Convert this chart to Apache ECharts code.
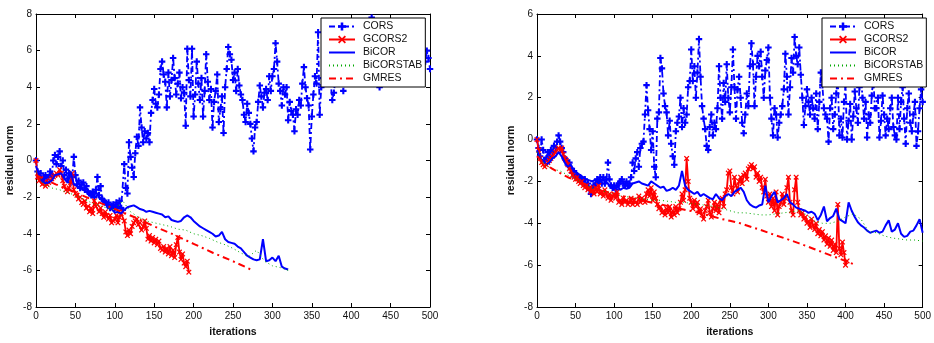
<!DOCTYPE html>
<html><head><meta charset="utf-8">
<script src="https://cdn.jsdelivr.net/npm/echarts@6/dist/echarts.min.js"></script>
<style>html,body{margin:0;padding:0;background:#fff}#c{width:934px;height:343px}</style>
</head><body><div id="c"></div>
<script>
const seriesNames = ['CORS','GCORS2','BiCOR','BiCORSTAB','GMRES'];
const xRange = {min:0, max:500, interval:50};
const leftYRange = {min:-8, max:8, interval:2};
const rightYRange = {min:-8, max:6, interval:2};
const xTitle = 'iterations';
const yTitle = 'residual norm';

// ---------- left panel ----------
const L_CORS_step = 2;
const L_CORS = [
0,-0.6,-0.9,-0.7,-1.1, -1.0,-0.8,-1.2,-0.9,-0.6, -0.8,0.0,0.3,-0.2,0.2, 0.5,-0.3,0.0,-0.8,-0.5,
-1.0,-0.7,-1.2,-0.9,0.2, -0.8,-1.3,-1.1,-1.5,-1.3, -1.2,-1.6,-1.4,-1.7,-1.8, -1.9,-1.7,-2.0,-1.6,-0.9,
-1.9,-1.4,-2.1,-2.2,-2.3, -2.4,-2.3,-2.6,-2.5,-2.4, -2.6,-2.3,-2.5,-2.2,-2.6, -2.7,-0.2,-1.5,-1.8,1.0,
0.2,-0.4,-0.9,0.4,1.3, 0.8,2.9,1.8,1.0,1.6, 1.2,1.5,1.0,2.6,3.3, 3.9,3.1,2.9,3.6,5.0,
5.4,4.7,4.3,2.9,4.8, 3.5,4.4,5.6,4.5,3.6, 4.2,4.8,3.4,4.0,3.7, 1.9,6.1,4.4,3.5,6.1,
2.4,3.6,5.4,4.2,3.3, 4.5,2.4,3.8,5.8,4.3, 3.3,3.9,1.8,3.2,3.8, 4.7,2.1,2.8,3.5,1.5,
4.0,5.0,6.2,5.8,5.5, 4.4,4.8,3.8,5.0,4.1, 3.6,3.3,2.5,2.1,3.1, 2.6,2.0,1.2,0.5,1.8,
2.1,3.2,4.1,3.5,2.9, 3.7,3.9,3.3,4.6,3.8, 4.6,5.0,6.4,5.4,4.2, 3.8,3.0,4.0,3.6,4.0,
2.2,3.2,2.7,2.5,1.6, 2.8,2.5,3.3,3.0,4.2, 5.1,4.0,3.4,3.0,0.6, 2.4,3.6,4.6,4.2,7.0,
2.5,4.0,4.5,5.2,4.8, 5.5,4.6,4.2,3.3,3.7, 4.5,5.3,5.8,4.9,4.4, 3.8,4.2,5.0,5.6,6.2,
5.4,4.8,5.5,6.0,5.1, 4.6,5.3,6.1,5.7,6.4, 5.8,6.6,7.2,7.8,6.5, 5.9,5.2,4.6,4.0,4.8,
5.5,6.0,5.2,5.8,6.3, 5.6,5.0,5.7,6.2,5.4, 4.9,5.6,6.0,5.3,5.8, 6.4,5.7,5.1,5.6,6.1,
5.5,4.9,5.4,5.9,5.2, 5.7,6.0,5.4,6.0,5.6, 5.0
];
const L_GCORS2_step = 2;
const L_GCORS2 = [
0.0,-0.9,-1.1,-1.0,-1.3, -1.2,-1.4,-1.3,-1.2,-1.1, -1.0,-0.9,-0.8,-0.7,-0.8, -0.5,-0.7,-1.1,-1.4,-1.6,
-1.7,-1.5,-1.2,-0.7,-1.6, -1.8,-1.9,-2.1,-2.0,-2.3, -2.4,-2.2,-2.6,-2.5,-2.8, -2.6,-2.9,-2.2,-2.5,-2.4,
-2.8,-2.6,-2.9,-3.1,-2.8, -3.0,-3.2,-3.0,-3.4,-3.3, -3.2,-3.0,-3.4,-3.1,-2.9, -2.8,-3.3,-3.9,-4.1,-3.8,
-4.0,-3.6,-3.4,-3.3,-3.2, -3.5,-3.4,-3.8,-3.6,-3.3, -3.7,-4.3,-4.1,-4.4,-4.2, -4.5,-4.3,-4.6,-4.4,-4.8,
-4.9,-4.7,-5.0,-4.8,-5.1, -4.7,-5.2,-4.9,-5.3,-4.6, -4.2,-5.0,-5.4,-5.1,-5.6, -5.8,-5.5,-6.1
];
const L_BICOR_step = 4;
const L_BICOR = [
-0.3,-0.8,-1.1,-1.25,-1.2, -1.1,-0.8,-0.75,-0.7,-1.0, -1.2,-0.6,-1.3,-1.4,-1.5, -1.6,-1.7,-1.85,-1.8,-1.7,
-2.0,-2.1,-2.3,-2.5,-2.65, -2.85,-2.8,-2.9,-2.7,-2.55, -2.5,-2.45,-2.55,-2.65,-2.7, -2.8,-2.75,-2.8,-2.85,-2.9,
-2.95,-3.1,-3.05,-3.25,-3.3, -3.35,-3.3,-3.1,-3.0,-3.1, -3.3,-3.45,-3.6,-3.7,-3.8, -3.9,-4.0,-4.15,-4.1,-3.9,
-4.3,-4.45,-4.5,-4.55,-4.7, -4.8,-5.0,-5.2,-5.3,-5.4, -5.45,-5.4,-4.3,-5.5,-5.45, -5.3,-5.5,-5.2,-5.8,-5.9,
-5.95
];
const L_BICORSTAB_step = 10;
const L_BICORSTAB = [
-0.6,-1.3,-1.5,-1.6,-1.75,-1.9,-2.1,-2.3,-2.45,-2.6,-2.7,-2.2,-2.8,-3.1,-3.3,-3.4,-3.5,
-3.6,-3.75,-3.8,-4.0,-4.1,-4.25,-4.45,-4.6,-4.8,-5.05,-5.25,-4.9,-5.5,-5.75,-5.85,-6.0
];
const L_GMRES_step = 25;
const L_GMRES = [-0.8,-1.3,-1.75,-2.2,-2.65,-3.1,-3.6,-4.05,-4.55,-5.05,-5.5,-6.0];

// ---------- right panel ----------
const R_CORS_step = 2;
const R_CORS = [
0.0,-0.4,-0.8,0.0,-0.5, -1.0,-0.9,-0.6,-0.8,-0.5, -0.6,-0.3,-0.4,-0.1,0.2, -0.1,-0.4,-0.6,-0.9,-1.0,
-1.2,-1.1,-1.4,-1.6,-1.5, -1.8,-1.7,-1.9,-1.8,-2.0, -2.0,-1.9,-2.2,-2.1,-2.4, -2.6,-2.3,-2.2,-2.1,-1.9,
-2.0,-1.8,-2.1,-1.8,-2.1, -1.9,-1.1,-1.9,-2.2,-2.3, -2.2,-2.4,-2.2,-2.1,-2.0, -1.9,-2.1,-2.2,-2.0,-2.2,
-2.1,-1.8,-1.1,-1.5,-0.9, -0.6,-1.3,-0.4,-0.2,-0.1, 1.2,2.6,1.4,0.5,-0.5, 0.4,-1.3,-1.8,1.0,1.3,
3.9,3.4,2.2,1.6,1.3, 0.2,0.9,-0.2,-0.8,-1.2, 0.4,0.8,1.1,2.0,0.6, 1.5,0.8,1.2,2.5,2.8,
4.3,2.8,3.5,2.0,3.2, 4.8,3.0,1.6,1.0,0.5, -0.3,-0.5,0.6,1.2,0.2, 0.8,0.5,1.5,3.5,2.0,
1.0,2.7,1.8,3.6,2.0, 1.3,2.5,4.3,2.5,1.0, 2.4,3.0,2.0,0.8,0.3, 1.2,2.2,1.6,3.5,4.6,
3.6,1.6,3.0,4.0,3.5, 4.2,3.0,2.0,3.3,3.8, 4.4,2.0,1.0,0.2,1.5, 1.2,0.1,0.8,1.2,1.6,
2.4,4.1,3.0,1.2,2.5, 3.9,3.2,4.9,4.0,3.6, 4.4,3.1,2.0,0.7,1.6, 2.4,1.8,1.2,2.0,1.5,
1.0,2.2,0.5,1.8,3.2, 2.6,1.5,1.2,1.0,-0.1, 1.5,2.0,0.5,1.2,2.2, 3.0,0.2,1.0,0.1,1.8,
2.6,0.0,0.9,1.7,0.0, 1.1,2.3,1.5,0.8,2.5, 3.1,2.0,1.0,1.8,0.1, 1.2,0.8,2.1,3.0,1.5,
1.5,2.0,0.1,0.9,2.1, 1.2,0.2,1.0,0.5,1.5, 2.0,0.6,0.2,0.0,2.0, 0.5,1.8,2.5,1.0,-0.2,
1.5,2.2,0.8,0.4,1.2, 1.8,-0.3,0.4,1.5,2.4, 1.8
];
const R_GCORS2_step = 2;
const R_GCORS2 = [
0.0,-0.5,-0.9,-1.1,-1.2, -1.3,-1.2,-1.1,-1.0,-0.9, -0.8,-0.7,-0.6,-0.5,-0.4, -0.5,-0.4,-0.7,-0.9,-1.0,
-1.2,-1.4,-1.5,-1.7,-1.8, -1.9,-1.8,-2.0,-2.1,-2.0, -2.2,-2.3,-2.2,-2.4,-2.3, -2.5,-2.4,-2.6,-2.3,-2.5,
-2.2,-2.6,-2.5,-2.7,-2.4, -2.6,-2.8,-2.6,-2.9,-2.7, -2.6,-2.8,-2.5,-3.0,-2.9, -3.1,-2.8,-3.0,-2.9,-3.1,
-3.0,-2.8,-3.1,-2.9,-3.0, -3.1,-2.7,-3.0,-2.8,-2.9, -3.0,-2.6,-2.4,-2.7,-2.3, -2.9,-2.5,-2.8,-3.1,-3.3,
-3.2,-3.5,-3.4,-3.6,-3.3, -3.5,-3.2,-3.7,-3.4,-3.6, -3.2,-3.5,-3.3,-3.0,-2.6, -2.9,-2.4,-0.9,-2.0,-2.8,
-3.0,-3.3,-2.9,-3.2,-3.0, -3.5,-3.3,-3.6,-3.8,-3.4, -3.2,-2.9,-3.5,-3.7,-3.3, -3.0,-3.4,-3.1,-3.5,-2.9,
-2.8,-3.2,-2.6,-2.4,-1.6, -1.5,-2.3,-2.6,-1.8,-2.2, -2.5,-2.0,-1.8,-2.1,-1.7, -1.6,-1.9,-1.4,-1.3,-1.2,
-1.4,-1.3,-1.8,-1.6,-2.0, -1.8,-2.3,-2.5,-1.9,-2.7, -3.0,-2.6,-3.2,-2.8,-3.4, -2.5,-3.6,-3.2,-3.0,-2.6,
-3.1,-2.8,-2.3,-1.8,-3.0, -3.4,-3.6,-2.4,-1.8,-3.0, -3.4,-3.6,-3.5,-3.8,-3.7, -4.0,-3.9,-4.2,-3.8,-4.1,
-4.3,-4.0,-4.5,-4.3,-4.6, -4.4,-4.8,-4.6,-5.0,-4.7, -5.1,-4.8,-5.3,-5.0,-5.4, -3.1,-5.2,-5.5,-4.9,-5.4,
-6.0,-5.8
];
const R_BICOR_step = 4;
const R_BICOR = [
-0.5,-0.9,-1.0,-1.2,-1.1, -0.9,-0.8,-0.6,-0.8,-1.1, -1.3,-1.2,-1.5,-1.6,-1.7, -1.8,-1.9,-1.95,-2.0,-1.9,
-2.1,-1.9,-2.0,-2.1,-2.3, -2.3,-2.2,-2.4,-2.3,-2.35, -2.3,-2.1,-2.05,-2.0,-2.1, -2.15,-2.2,-2.0,-2.1,-2.2,
-2.3,-2.25,-2.45,-2.4,-2.3, -2.4,-2.2,-1.5,-2.2,-2.4, -2.5,-2.6,-2.5,-2.7,-2.6, -2.7,-2.8,-2.85,-2.6,-2.8,
-2.9,-2.7,-2.6,-2.7,-2.5, -2.4,-2.3,-2.5,-2.9,-3.1, -3.2,-3.25,-3.15,-3.1,-2.2, -3.0,-2.7,-2.5,-3.0,-2.9,
-2.8,-2.6,-3.0,-3.1,-3.25, -3.3,-3.35,-3.4,-3.5,-3.45, -3.55,-3.85,-3.6,-3.2,-3.9, -3.75,-3.65,-3.3,-3.8,-3.9,
-4.0,-3.0,-3.4,-3.7,-3.95, -4.1,-4.2,-4.35,-4.45,-4.4, -4.35,-4.45,-4.4,-4.1,-3.85, -4.4,-4.3,-4.0,-4.5,-4.65,
-4.6,-4.4,-4.35,-4.1,-3.8, -4.45
];
const R_BICORSTAB_step = 10;
const R_BICORSTAB = [
-0.6,-1.2,-1.4,-1.5,-1.7,-1.9,-2.1,-2.3,-2.4,-2.5,-2.6,-2.7,-2.75,-2.8,-2.85,-2.9,-2.9,
-2.95,-3.0,-3.0,-3.05,-3.1,-3.15,-3.2,-3.3,-3.4,-3.5,-3.5,-3.55,-3.6,-3.6,-3.55,-3.5,-3.45,
-3.4,-3.6,-3.9,-4.0,-4.0,-3.9,-3.7,-3.55,-3.8,-4.4,-4.45,-4.6,-4.7,-4.75,-4.8,-4.8,-4.85
];
const R_GMRES_step = 10;
const R_GMRES = [
-0.8,-1.15,-1.4,-1.6,-1.8,-1.95,-2.1,-2.25,-2.4,-2.5,-2.6,-2.7,-2.78,-2.86,-2.94,-3.02,-3.1,
-3.18,-3.26,-3.34,-3.42,-3.5,-3.6,-3.7,-3.8,-3.88,-3.96,-4.08,-4.2,-4.32,-4.45,-4.58,-4.7,
-4.83,-4.96,-5.1,-5.24,-5.38,-5.52,-5.66,-5.8,-5.95
];

// ---------- styling ----------
const FONT = '"Liberation Sans", Arial, sans-serif';
const PLUS = 'path://M3.4,0H6.6V3.4H10V6.6H6.6V10H3.4V6.6H0V3.4H3.4Z';
const CROSS = 'path://M0,1.6L1.6,0L5,3.4L8.4,0L10,1.6L6.6,5L10,8.4L8.4,10L5,6.6L1.6,10L0,8.4L3.4,5Z';
const BLUE = '#0000ff', RED = '#ff0000', GREEN = '#00a800';

function pairs(vals, step) { return vals.map((v, i) => [i * step, v]); }

function mkSeries(name, data, xi, yi) {
  const base = {name, type:'line', data, xAxisIndex:xi, yAxisIndex:yi, animation:false,
    showAllSymbol:true, sampling:null, smooth:false, emphasis:{disabled:true}};
  if (name === 'CORS') return Object.assign(base, {symbol:PLUS, symbolSize:6.5,
    itemStyle:{color:BLUE}, lineStyle:{color:BLUE, width:1.8, type:[6,3,2,3]}, z:2});
  if (name === 'GCORS2') return Object.assign(base, {symbol:CROSS, symbolSize:5.5,
    itemStyle:{color:RED}, lineStyle:{color:RED, width:1.8}, z:3});
  if (name === 'BiCOR') return Object.assign(base, {symbol:'circle', showSymbol:false,
    itemStyle:{color:BLUE}, lineStyle:{color:BLUE, width:2}, z:4});
  if (name === 'BiCORSTAB') return Object.assign(base, {symbol:'circle', showSymbol:false,
    itemStyle:{color:GREEN}, lineStyle:{color:GREEN, width:1, type:[1,3]}, z:5});
  return Object.assign(base, {symbol:'circle', showSymbol:false,
    itemStyle:{color:RED}, lineStyle:{color:RED, width:2, type:[7,4,2,4]}, z:6});
}

const axisText = {color:'#111', fontSize:10, fontFamily:FONT};
function xAx(gi, pos) {
  const a = {type:'value', gridIndex:gi, position:pos, min:xRange.min, max:xRange.max, interval:xRange.interval,
    axisLine:{show:true, onZero:false, lineStyle:{color:'#000', width:1}},
    axisTick:{show:true, inside:true, length:4, lineStyle:{color:'#000'}},
    splitLine:{show:false},
    axisLabel:{show:pos==='bottom', margin:4, ...axisText}};
  if (pos === 'bottom') Object.assign(a, {name:xTitle, nameLocation:'middle', nameGap:20,
    nameTextStyle:{fontWeight:'bold', fontSize:10.5, color:'#111', fontFamily:FONT}});
  return a;
}
function yAx(gi, pos, r) {
  const a = {type:'value', gridIndex:gi, position:pos, min:r.min, max:r.max, interval:r.interval,
    axisLine:{show:true, onZero:false, lineStyle:{color:'#000', width:1}},
    axisTick:{show:true, inside:true, length:4, lineStyle:{color:'#000'}},
    splitLine:{show:false},
    axisLabel:{show:pos==='left', margin:4, ...axisText}};
  if (pos === 'left') Object.assign(a, {name:yTitle, nameLocation:'middle', nameGap:20, nameRotate:90,
    nameTextStyle:{fontWeight:'bold', fontSize:10.5, color:'#111', fontFamily:FONT}});
  return a;
}
function legendAt(left) {
  const data = seriesNames.map(n => (n === 'CORS' || n === 'GCORS2') ? {name:n}
    : {name:n, itemStyle:{opacity:0, color:'rgba(0,0,0,0)'}});
  return {left, top:18, orient:'vertical', data,
    backgroundColor:'#fff', borderColor:'#000', borderWidth:1, borderRadius:0,
    padding:[3,3,3,7], itemGap:2, itemWidth:26, itemHeight:10,
    selectedMode:false, z:10,
    textStyle:{fontSize:10.5, color:'#111', fontFamily:FONT, padding:[0,0,0,3]}};
}

const leftSets = [pairs(L_CORS,L_CORS_step), pairs(L_GCORS2,L_GCORS2_step), pairs(L_BICOR,L_BICOR_step),
  pairs(L_BICORSTAB,L_BICORSTAB_step), pairs(L_GMRES,L_GMRES_step)];
const rightSets = [pairs(R_CORS,R_CORS_step), pairs(R_GCORS2,R_GCORS2_step), pairs(R_BICOR,R_BICOR_step),
  pairs(R_BICORSTAB,R_BICORSTAB_step), pairs(R_GMRES,R_GMRES_step)];

const series = [];
seriesNames.forEach((n, i) => series.push(mkSeries(n, leftSets[i], 0, 0)));
seriesNames.forEach((n, i) => series.push(mkSeries(n, rightSets[i], 2, 2)));

const chart = echarts.init(document.getElementById('c'), null, {renderer:'canvas'});
chart.setOption({
  backgroundColor:'#fff',
  animation:false,
  grid:[{left:36, top:14, width:394, height:302}, {left:537, top:14, width:393, height:302}],
  xAxis:[xAx(0,'bottom'), xAx(0,'top'), xAx(1,'bottom'), xAx(1,'top')],
  yAxis:[yAx(0,'left',leftYRange), yAx(0,'right',leftYRange), yAx(1,'left',rightYRange), yAx(1,'right',rightYRange)],
  legend:[legendAt(321), legendAt(822)],
  series
});
</script></body></html>
